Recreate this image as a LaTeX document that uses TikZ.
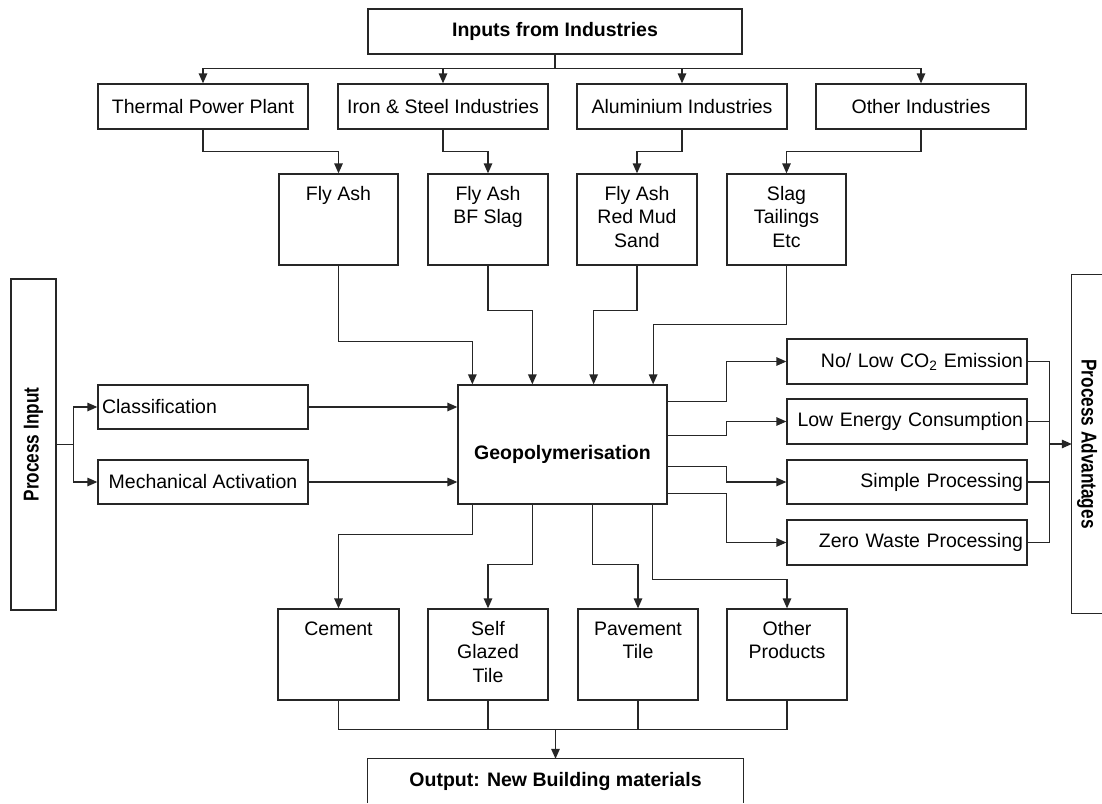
\documentclass[tikz,border=0pt]{standalone}
\usepackage{graphicx}
\usepackage{fontspec}
\setmainfont{Liberation Sans}
\usetikzlibrary{arrows.meta}
\newcommand\mlines[1]{\begin{tabular}[t]{@{}c@{}}#1\end{tabular}}
\begin{document}
\begin{tikzpicture}[x=1pt,y=-1pt,
  every node/.style={font=\fontsize{19.5}{23.5}\selectfont},
  bold/.style={font=\fontsize{19.5}{23.5}\selectfont\bfseries},
  ln/.style={line width=1.3pt, draw=black!85},
  arr/.style={ln, -{Triangle[length=10pt,width=8.5pt]}},
  box/.style={draw=black!85, line width=1.3pt, inner sep=0pt, minimum height=45pt},
  tallbox/.style={draw=black!85, line width=1.3pt, inner sep=0pt, text height=26pt, text depth=65pt},
  advbox/.style={draw=black!85, line width=1.3pt, text width=232pt, inner xsep=4pt, inner ysep=0pt, align=right, minimum height=45pt}
]
\fill[white] (0,0) rectangle (1102,803);
\useasboundingbox (0,0) rectangle (1102,803);

% top
\node[box, bold, minimum width=374pt] (top) at (555,31.5) {Inputs from Industries};
% industries
\node[box, minimum width=210pt] (tpp) at (203,106.5) {Thermal Power Plant};
\node[box, minimum width=210pt] (ise) at (443,106.5) {Iron \& Steel Industries};
\node[box, minimum width=210pt] (alu) at (682,106.5) {Aluminium Industries};
\node[box, minimum width=210pt] (oth) at (921,106.5) {Other Industries};
% wastes
\node[tallbox, minimum width=119pt] (fa1) at (338.5,219.5) {Fly Ash};
\node[tallbox, minimum width=120pt] (fa2) at (488,219.5) {\mlines{Fly Ash\\BF Slag}};
\node[tallbox, minimum width=120pt] (fa3) at (637,219.5) {\mlines{Fly Ash\\Red Mud\\Sand}};
\node[tallbox, minimum width=119pt] (fa4) at (786.5,219.5) {\mlines{Slag\\Tailings\\Etc}};
% centre
\node[draw=black!85, line width=1.3pt, bold, minimum width=209pt, inner sep=0pt, text height=74pt, text depth=45pt] (geo) at (562.5,444.5) {Geopolymerisation};
% process input
\node[draw=black!85, line width=1.3pt, minimum width=45pt, minimum height=331pt, inner sep=0pt] (pin) at (33.5,444.5) {\rotatebox{90}{\scalebox{0.8}[1]{\fontsize{21.5}{24}\selectfont\bfseries Process Input}}};
\node[box, minimum height=44pt, text width=202pt, inner xsep=4pt, align=left] (cls) at (203,407) {Classification};
\node[box, minimum height=44pt, minimum width=210pt] (mech) at (203,482) {Mechanical Activation};
% advantages
\node[advbox] (a1) at (907,361.5) {No/ Low CO\textsubscript{2} Emission};
\node[advbox] (a2) at (907,421.5) {Low Energy Consumption};
\node[advbox, minimum height=44pt] (a3) at (907,482) {Simple Processing};
\node[advbox] (a4) at (907,542.5) {Zero Waste Processing};
\node[minimum width=30pt, minimum height=338pt, inner sep=0pt] (adv) at (1087,444) {\rotatebox{-90}{\scalebox{0.8}[1]{\fontsize{21.5}{24}\selectfont\bfseries Process Advantages}}};
\draw[ln] (adv.north east) -- (adv.north west) -- (adv.south west) -- (adv.south east);
% products
\node[tallbox, minimum width=121pt] (cem) at (338.5,654.5) {Cement};
\node[tallbox, minimum width=120pt] (sgt) at (488,654.5) {\mlines{Self\\Glazed\\Tile}};
\node[tallbox, minimum width=120pt] (pav) at (638,654.5) {\mlines{Pavement\\Tile}};
\node[tallbox, minimum width=120pt] (opr) at (787,654.5) {\mlines{Other\\Products}};
% output
\node[bold, minimum width=375pt, minimum height=44pt, inner sep=0pt] (out) at (555.5,781) {Output: New Building materials};
\draw[ln] (out.south west) -- (out.north west) -- (out.north east) -- (out.south east);

% connectors: top to industries
\draw[arr] (top.south) -- ++(0,14) -| (tpp.north);
\draw[arr] (top.south) -- ++(0,14) -| (ise.north);
\draw[arr] (top.south) -- ++(0,14) -| (alu.north);
\draw[arr] (top.south) -- ++(0,14) -| (oth.north);
% industries to wastes
\draw[arr] (tpp.south) -- ++(0,22) -| (fa1.north);
\draw[arr] (ise.south) -- ++(0,22) -| (fa2.north);
\draw[arr] (alu.south) -- ++(0,22) -| (fa3.north);
\draw[arr] (oth.south) -- ++(0,22) -| (fa4.north);
% wastes to geo
\draw[arr] (fa1.south) -- ++(0,76) -| ([xshift=15pt]geo.north west);
\draw[arr] (fa2.south) -- ++(0,45) -| ([xshift=75pt]geo.north west);
\draw[arr] (fa3.south) -- ++(0,45) -| ([xshift=-74pt]geo.north east);
\draw[arr] (fa4.south) -- ++(0,59) -| ([xshift=-14.5pt]geo.north east);
% process input
\draw[ln] (pin.east) -- ++(16.5,0) coordinate (pj);
\draw[arr] (pj) |- (cls.west);
\draw[arr] (pj) |- (mech.west);
\draw[arr] (cls.east) -- (cls.east -| geo.west);
\draw[arr] (mech.east) -- (mech.east -| geo.west);
% geo to advantages
\draw[arr] ([yshift=-17pt]geo.north east) -- ++(59,0) |- (a1.west);
\draw[arr] ([yshift=-51pt]geo.north east) -- ++(59,0) |- (a2.west);
\draw[arr] ([yshift=-82pt]geo.north east) -- ++(59,0) |- (a3.west);
\draw[arr] ([yshift=-109pt]geo.north east) -- ++(59,0) |- (a4.west);
% advantages to process advantages
\draw[ln] (a1.east) -- ++(22,0) coordinate (r1);
\draw[ln] (a4.east) -- ++(22,0) coordinate (r4);
\draw[ln] (a2.east) -- ++(22,0);
\draw[ln] (a3.east) -- ++(22,0);
\draw[ln] (r1) -- (r4);
\draw[arr] (r1 |- adv.west) -- (adv.west);
% geo to products
\draw[arr] ([xshift=15pt]geo.south west) -- ++(0,30) -| (cem.north);
\draw[arr] ([xshift=75pt]geo.south west) -- ++(0,60) -| (sgt.north);
\draw[arr] ([xshift=135pt]geo.south west) -- ++(0,60) -| (pav.north);
\draw[arr] ([xshift=195pt]geo.south west) -- ++(0,75) -| (opr.north);
% products to output
\draw[ln] (cem.south) -- ++(0,29) coordinate (bus) -| (opr.south);
\draw[ln] (sgt.south) -- ++(0,29);
\draw[ln] (pav.south) -- ++(0,29);
\draw[arr] (bus -| out.north) -- (out.north);
\end{tikzpicture}
\end{document}
